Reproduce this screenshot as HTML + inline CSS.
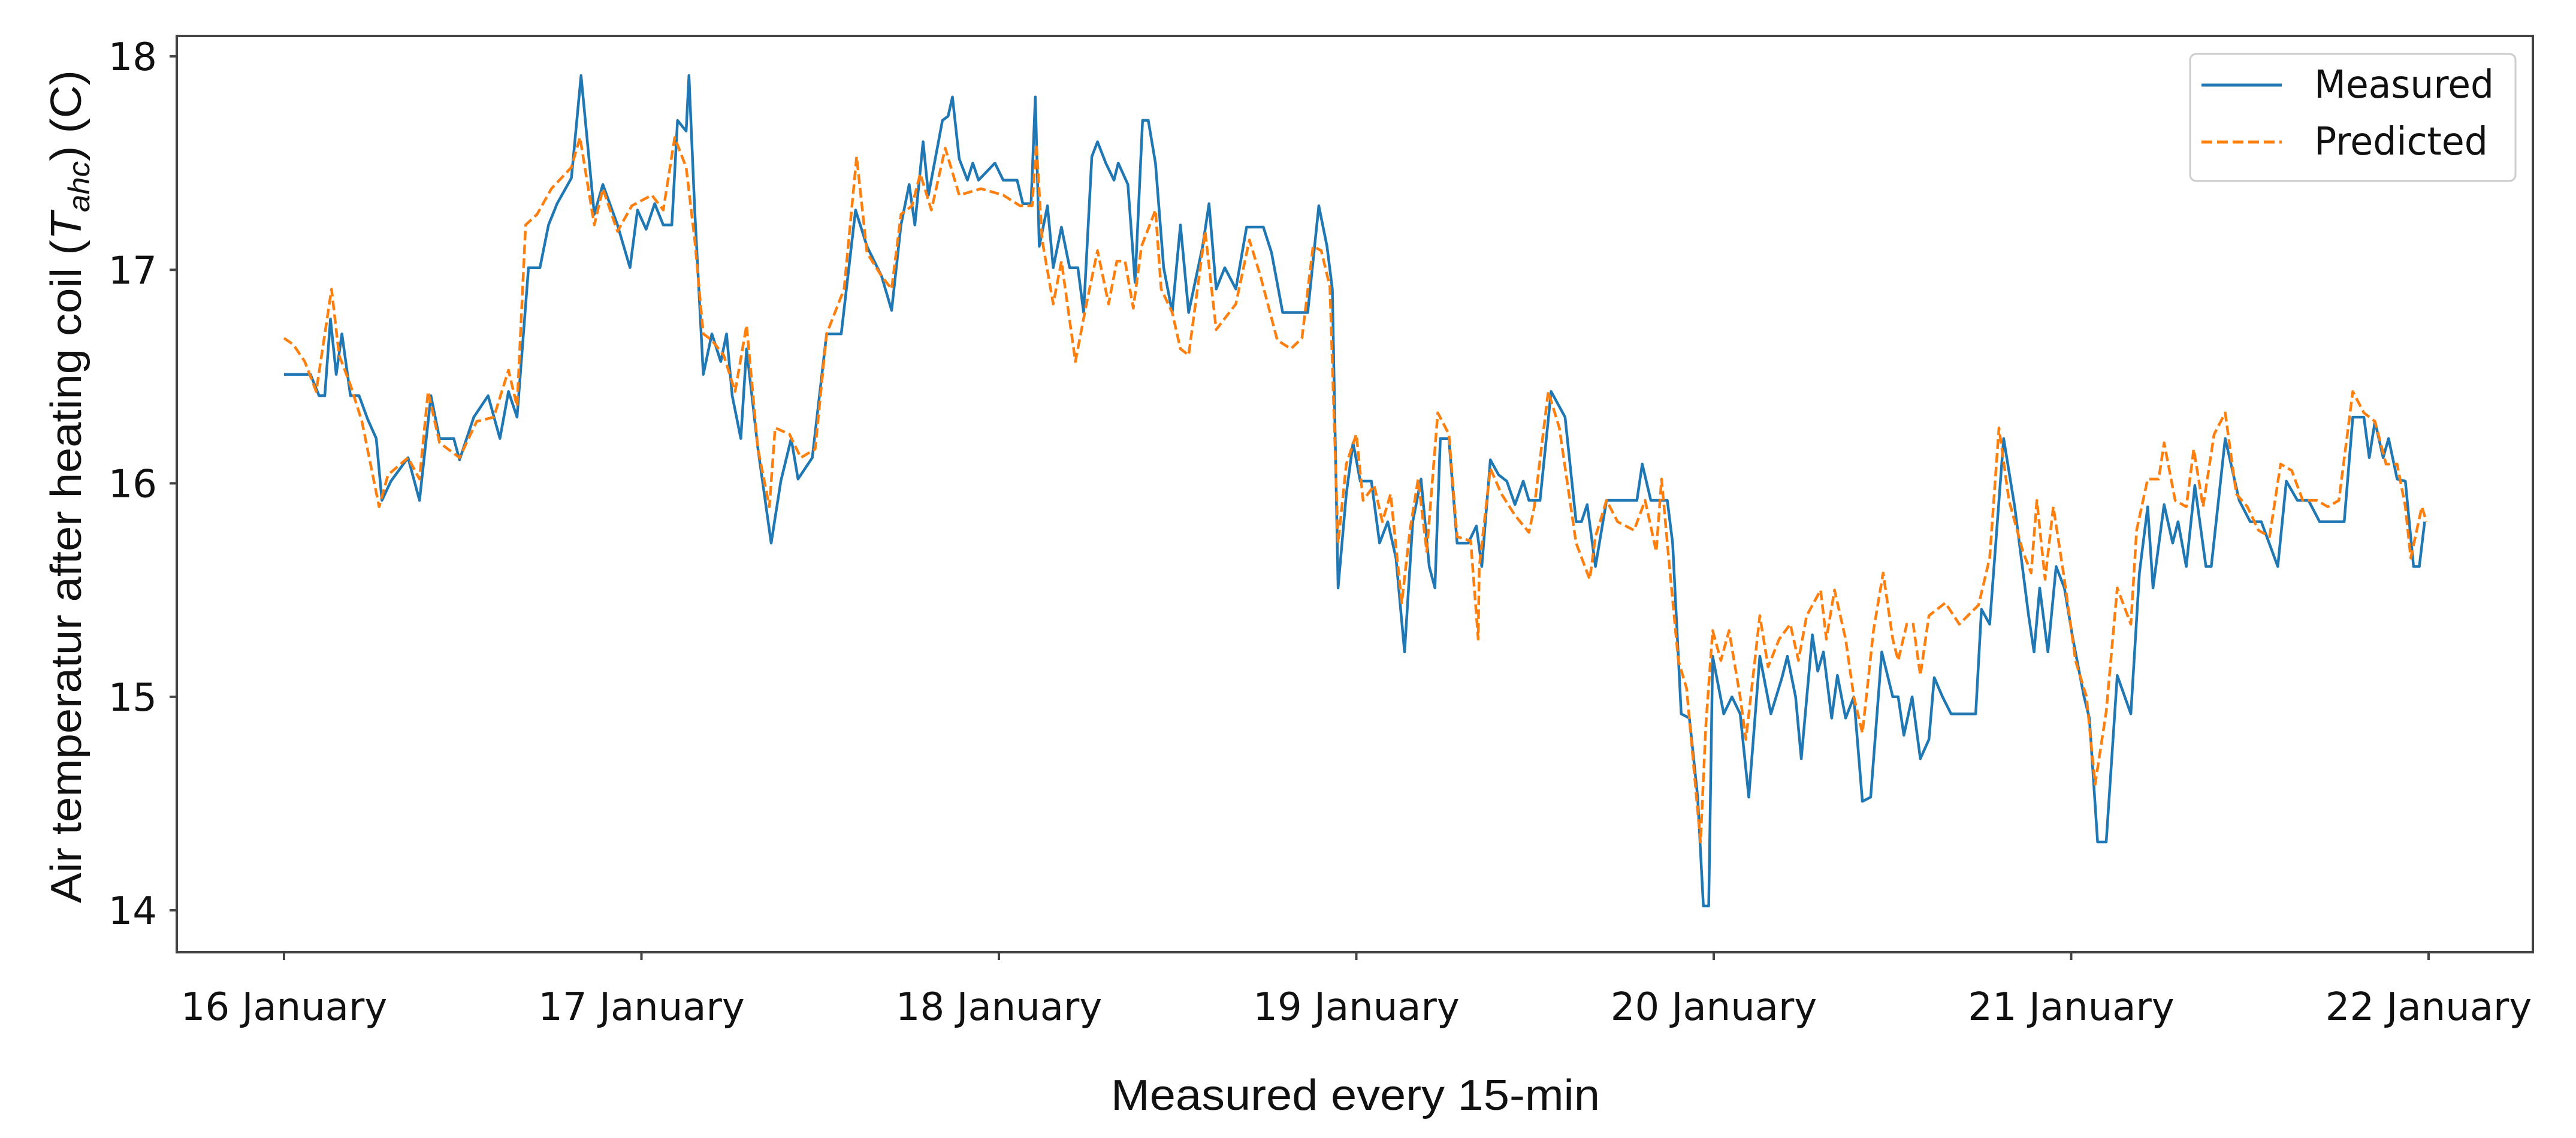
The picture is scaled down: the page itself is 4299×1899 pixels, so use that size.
<!DOCTYPE html>
<html><head><meta charset="utf-8"><style>
html,body{margin:0;padding:0;background:#fff;}
svg{display:block;}
text{font-family:"DejaVu Sans","Liberation Sans",sans-serif;fill:#111;}
</style></head><body>
<svg id="chart" width="4299" height="1899" viewBox="0 0 4299 1899" xmlns="http://www.w3.org/2000/svg">
<rect x="0" y="0" width="4299" height="1899" fill="#fff"/>
<g id="plot"></g>
<g id="axes"></g>
<text transform="translate(135,812) rotate(-90)" text-anchor="middle" font-size="72" style="font-family:'Liberation Sans',sans-serif" textLength="1390" lengthAdjust="spacingAndGlyphs">Air temperatur after heating coil (<tspan font-style="italic">T</tspan><tspan font-style="italic" font-size="50" dy="14">ahc</tspan><tspan dy="-14">) (C)</tspan></text>
<text x="2262" y="1852" text-anchor="middle" font-size="72" style="font-family:'Liberation Sans',sans-serif" textLength="816" lengthAdjust="spacingAndGlyphs">Measured every 15-min</text>
<g>
<rect x="3655" y="90" width="543" height="212" rx="10" fill="#fff" stroke="#ccc" stroke-width="3"/>
<line x1="3674" y1="142" x2="3808" y2="142" stroke="#1f77b4" stroke-width="5"/>
<text x="3862" y="163" font-size="64" textLength="300" lengthAdjust="spacingAndGlyphs">Measured</text>
<line x1="3674" y1="237" x2="3808" y2="237" stroke="#ff7f0e" stroke-width="5" stroke-dasharray="18,8"/>
<text x="3862" y="258" font-size="64" textLength="290" lengthAdjust="spacingAndGlyphs">Predicted</text>
</g>
</svg>
<script>
const xTickLabels = ["16 January","17 January","18 January","19 January","20 January","21 January","22 January"];
const yTickValues = [14,15,16,17,18];
const measuredT = [0,0.074,0.098,0.114,0.130,0.146,0.162,0.186,0.210,0.234,0.258,0.274,0.299,0.347,0.379,0.411,0.435,0.475,0.491,0.531,0.571,0.604,0.628,0.652,0.684,0.716,0.740,0.764,0.804,0.831,0.868,0.892,0.933,0.968,0.989,1.013,1.037,1.061,1.085,1.101,1.125,1.133,1.149,1.173,1.197,1.222,1.238,1.254,1.278,1.294,1.326,1.363,1.390,1.419,1.438,1.478,1.518,1.559,1.599,1.631,
1.672,1.700,1.726,1.749,1.765,1.788,1.803,1.842,1.858,1.870,1.889,1.912,1.927,1.943,1.989,2.012,2.051,2.067,2.090,2.102,2.113,2.136,2.152,2.175,2.198,2.221,2.237,2.260,2.276,2.299,2.322,2.334,2.361,2.381,2.402,2.418,2.438,2.461,2.485,2.508,2.531,2.570,2.588,2.608,2.632,2.663,2.693,2.740,2.763,2.794,2.864,2.895,2.918,2.933,2.949,2.972,2.991,3.011,3.042,3.065,3.088,3.111,3.135,3.158,3.181,3.204,3.220,3.235,3.259,3.282,3.313,3.336,3.351,3.375,3.398,3.421,3.444,3.467,3.483,3.514,3.545,3.584,3.615,3.630,3.646,3.669,3.700,3.785,3.800,3.824,3.870,3.885,3.909,3.932,3.955,3.971,3.986,
3.997,4.028,4.051,4.074,4.098,4.129,4.160,4.191,4.206,4.229,4.245,4.276,4.291,4.307,4.330,4.346,4.369,4.392,4.416,4.439,4.470,4.501,4.516,4.532,4.555,4.578,4.602,4.617,4.640,4.664,4.733,4.749,4.772,4.811,4.842,4.881,4.896,4.912,4.935,4.958,4.981,5.005,5.036,5.051,5.074,5.098,5.129,5.167,5.191,5.214,5.229,5.260,5.284,5.299,5.322,5.346,5.377,5.392,5.431,5.470,5.501,5.532,5.578,5.602,5.633,5.664,5.695,5.764,5.788,5.819,5.834,5.850,5.873,5.888,5.912,5.935,5.958,5.974,5.989];
const measuredV = [16.51,16.51,16.41,16.41,16.77,16.51,16.70,16.41,16.41,16.30,16.21,15.92,16.01,16.12,15.92,16.41,16.21,16.21,16.11,16.31,16.41,16.21,16.43,16.31,17.01,17.01,17.21,17.31,17.43,17.91,17.26,17.40,17.21,17.01,17.28,17.19,17.31,17.21,17.21,17.70,17.65,17.91,17.28,16.51,16.70,16.57,16.70,16.41,16.21,16.63,16.16,15.72,16.01,16.21,16.02,16.12,16.70,16.70,17.28,17.11,
16.97,16.81,17.21,17.40,17.21,17.60,17.35,17.70,17.72,17.81,17.52,17.42,17.50,17.42,17.50,17.42,17.42,17.31,17.31,17.81,17.11,17.30,17.01,17.20,17.01,17.01,16.80,17.53,17.60,17.50,17.42,17.50,17.40,16.94,17.70,17.70,17.50,17.01,16.80,17.21,16.80,17.11,17.31,16.91,17.01,16.91,17.20,17.20,17.08,16.80,16.80,17.30,17.11,16.91,15.51,15.95,16.19,16.01,16.01,15.72,15.82,15.65,15.21,15.82,16.02,15.61,15.51,16.21,16.21,15.72,15.72,15.80,15.61,16.11,16.04,16.01,15.90,16.01,15.92,15.92,16.43,16.31,15.82,15.82,15.90,15.61,15.92,15.92,16.09,15.92,15.92,15.72,14.92,14.90,14.53,14.02,14.02,
15.19,14.92,15.00,14.92,14.53,15.19,14.92,15.09,15.19,15.00,14.71,15.29,15.12,15.21,14.90,15.10,14.90,15.00,14.51,14.53,15.21,15.00,15.00,14.82,15.00,14.71,14.80,15.09,15.00,14.92,14.92,15.41,15.34,16.21,15.89,15.38,15.21,15.51,15.21,15.61,15.51,15.27,15.00,14.90,14.32,14.32,15.10,14.92,15.58,15.89,15.51,15.90,15.72,15.82,15.61,15.99,15.61,15.61,16.21,15.92,15.82,15.82,15.61,16.01,15.92,15.92,15.82,15.82,16.31,16.31,16.12,16.29,16.12,16.21,16.02,16.01,15.61,15.61,15.82];
const predictedT = [0,0.026,0.058,0.090,0.133,0.154,0.186,0.218,0.266,0.291,0.347,0.379,0.403,0.435,0.491,0.539,0.587,0.628,0.652,0.676,0.708,0.748,0.804,0.828,0.868,0.892,0.933,0.973,1.029,1.061,1.093,1.125,1.149,1.173,1.197,1.230,1.262,1.294,1.326,1.358,1.374,1.414,1.446,1.486,1.518,1.567,1.602,1.631,
1.672,1.700,1.726,1.757,1.780,1.811,1.850,1.889,1.950,2.012,2.059,2.093,2.105,2.121,2.152,2.175,2.214,2.245,2.276,2.307,2.330,2.353,2.376,2.399,2.438,2.454,2.485,2.508,2.531,2.577,2.608,2.663,2.701,2.732,2.779,2.817,2.848,2.879,2.902,2.926,2.949,2.972,3.000,3.019,3.050,3.073,3.096,3.127,3.150,3.173,3.197,3.228,3.259,3.282,3.320,3.341,3.344,3.375,3.406,3.444,3.483,3.498,3.537,3.568,3.615,3.653,3.669,3.700,3.731,3.777,3.808,3.839,3.854,3.870,3.901,3.924,3.963,3.978,
3.997,4.020,4.043,4.074,4.090,4.113,4.129,4.152,4.183,4.214,4.237,4.260,4.299,4.315,4.338,4.369,4.392,4.416,4.447,4.474,4.501,4.516,4.540,4.558,4.578,4.602,4.648,4.687,4.741,4.772,4.798,4.826,4.865,4.888,4.904,4.927,4.950,4.981,5.012,5.043,5.067,5.098,5.129,5.167,5.183,5.214,5.245,5.260,5.291,5.322,5.343,5.369,5.400,5.431,5.462,5.493,5.524,5.555,5.586,5.617,5.648,5.687,5.718,5.749,5.788,5.819,5.850,5.881,5.912,5.935,5.950,5.981,5.994];
const predictedV = [16.68,16.65,16.57,16.43,16.91,16.60,16.46,16.29,15.89,16.04,16.12,16.02,16.43,16.19,16.12,16.29,16.31,16.53,16.36,17.21,17.26,17.38,17.48,17.62,17.21,17.38,17.18,17.30,17.35,17.28,17.62,17.48,17.14,16.70,16.67,16.60,16.43,16.74,16.16,15.89,16.26,16.23,16.12,16.16,16.70,16.91,17.53,17.08,
16.97,16.91,17.26,17.30,17.45,17.28,17.57,17.35,17.38,17.35,17.30,17.30,17.59,17.14,16.84,17.04,16.57,16.84,17.09,16.84,17.04,17.04,16.82,17.11,17.28,16.91,16.80,16.63,16.60,17.18,16.72,16.84,17.14,16.97,16.67,16.63,16.68,17.11,17.09,16.92,15.72,16.09,16.23,15.92,15.99,15.82,15.95,15.44,15.78,16.02,15.68,16.33,16.23,15.75,15.73,15.27,15.61,16.07,15.95,15.85,15.77,15.89,16.43,16.26,15.72,15.55,15.75,15.92,15.82,15.78,15.92,15.68,16.02,15.72,15.17,15.04,14.32,14.87,
15.31,15.17,15.31,15.00,14.80,15.14,15.38,15.14,15.27,15.34,15.17,15.38,15.50,15.27,15.50,15.27,15.00,14.83,15.31,15.58,15.27,15.17,15.34,15.34,15.10,15.38,15.44,15.34,15.43,15.65,16.26,15.92,15.68,15.58,15.92,15.55,15.89,15.55,15.17,15.00,14.59,14.93,15.51,15.34,15.78,16.02,16.02,16.19,15.92,15.89,16.16,15.89,16.23,16.33,15.95,15.89,15.78,15.75,16.09,16.06,15.92,15.92,15.89,15.92,16.43,16.33,16.29,16.09,16.09,15.89,15.65,15.89,15.82];

const NS = "http://www.w3.org/2000/svg";
const L = 295, R = 4227, T = 60, B = 1589;
function xs(t){ return 474 + t * 596.5; }
function ys(v){ return 94 + (18 - v) * 356.25; }
const plot = document.getElementById('plot');
const axes = document.getElementById('axes');
function mk(tag, attrs, parent){ const e = document.createElementNS(NS, tag); for (const k in attrs) e.setAttribute(k, attrs[k]); parent.appendChild(e); return e; }

function pathFrom(ts, vs){ let d = ''; for (let i = 0; i < ts.length; i++) d += (i ? 'L' : 'M') + xs(ts[i]).toFixed(1) + ',' + ys(vs[i]).toFixed(1); return d; }
const pm = mk('path', {d: pathFrom(measuredT, measuredV), fill: 'none', stroke: '#1f77b4', 'stroke-width': 4.5, 'stroke-linejoin': 'round'}, plot);


const pp = mk('path', {d: pathFrom(predictedT, predictedV), fill: 'none', stroke: '#ff7f0e', 'stroke-width': 4.5, 'stroke-dasharray': '16,7', 'stroke-linejoin': 'round'}, plot);



const frame = mk('rect', {x: L, y: T, width: R - L, height: B - T, fill: 'none', stroke: '#444', 'stroke-width': 4}, axes);



yTickValues.forEach(v => {
  const y = ys(v);
  const tk = mk('line', {x1: L - 12, y1: y, x2: L, y2: y, stroke: '#444', 'stroke-width': 4}, axes);
  
  
  const tx = mk('text', {x: 262, y: y + 23, 'text-anchor': 'end', 'font-size': 64}, axes);
  tx.textContent = String(v);
  
  
});
xTickLabels.forEach((lab, i) => {
  const x = xs(i);
  const tk = mk('line', {x1: x, y1: B, x2: x, y2: B + 13, stroke: '#444', 'stroke-width': 4}, axes);
  
  
  const tx = mk('text', {x: x, y: 1702, 'text-anchor': 'middle', 'font-size': 64}, axes);
  tx.textContent = lab;
  
  
});
</script>
</body></html>
